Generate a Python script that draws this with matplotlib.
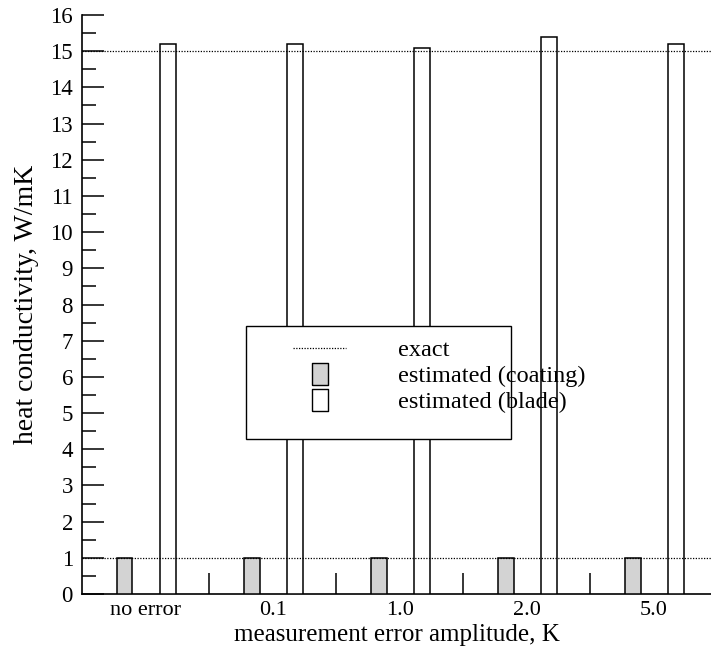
import numpy as np
import matplotlib
matplotlib.use('Agg')
import matplotlib.pyplot as plt
from matplotlib.lines import Line2D
from matplotlib.patches import Rectangle

# data
categories = ['no error', '0.1', '1.0', '2.0', '5.0']
coating = [1.0, 1.0, 1.0, 1.0, 1.0]
blade = [15.2, 15.2, 15.1, 15.4, 15.2]
exact_values = [1.0, 15.0]

plt.rcParams['font.family'] = ['Liberation Serif', 'DejaVu Serif']

fig = plt.figure(figsize=(7.11, 6.55), dpi=100)
ax = fig.add_axes([0.1153, 0.0931, 0.8847, 0.8840])

x = np.arange(len(categories))
bw = 0.125
ax.bar(x - 0.165, coating, width=bw, color='#d3d3d3', edgecolor='black', linewidth=1.1, zorder=3)
ax.bar(x + 0.175, blade, width=bw, color='white', edgecolor='black', linewidth=1.1, zorder=3)

for v in exact_values:
    ax.axhline(v, color='black', linestyle=(0, (1, 1.2)), linewidth=0.9, zorder=4)

ax.set_xlim(-0.5, 4.45)
ax.set_ylim(0, 16)

# spines
for s in ['top', 'right']:
    ax.spines[s].set_visible(False)
for s in ['left', 'bottom']:
    ax.spines[s].set_linewidth(1.2)

# y ticks
ax.set_yticks(np.arange(0, 17, 1))
ax.set_yticks(np.arange(0.5, 16, 1), minor=True)
ax.tick_params(axis='y', which='major', direction='in', length=16, width=1.1, labelsize=16.5, pad=6.5)
ax.tick_params(axis='y', which='minor', direction='in', length=10, width=1.1)

# x ticks: separators between groups, labels at centres
ax.set_xticks(x[:-1] + 0.5)
ax.set_xticklabels([])
ax.tick_params(axis='x', which='major', direction='in', length=15, width=1.1)
ax.set_xticks(x, minor=True)
ax.set_xticklabels(categories, minor=True)
ax.tick_params(axis='x', which='minor', length=0, labelsize=16, pad=5)

ax.set_xlabel('measurement error amplitude, K', fontsize=18, labelpad=3)
ax.set_ylabel('heat conductivity, W/mK', fontsize=20, labelpad=8)

# legend with a big rectangular frame
frame = Rectangle((246 / 711, 1 - 439 / 655), (511 - 246) / 711, (439 - 326) / 655,
                  transform=fig.transFigure, facecolor='white', edgecolor='black',
                  linewidth=1.0, zorder=5)
fig.patches.append(frame)

rect_marker = [(-0.36, -0.5), (0.36, -0.5), (0.36, 0.5), (-0.36, 0.5), (-0.36, -0.5)]
handles = [
    Line2D([], [], color='black', linestyle=(0, (1, 1.2)), linewidth=0.9),
    Line2D([], [], linestyle='none', marker=rect_marker, markersize=16,
           markerfacecolor='#d3d3d3', markeredgecolor='black', markeredgewidth=1.0),
    Line2D([], [], linestyle='none', marker=rect_marker, markersize=16,
           markerfacecolor='white', markeredgecolor='black', markeredgewidth=1.0),
]
labels = ['exact', 'estimated (coating)', 'estimated (blade)']
leg = fig.legend(handles, labels, loc='upper left', bbox_to_anchor=(293 / 711, 1 - 339 / 655),
                 frameon=False, fontsize=17.5, handlelength=2.2, handletextpad=2.1,
                 labelspacing=0.17, borderpad=0, borderaxespad=0)
leg.set_zorder(6)

fig.savefig('out.png', dpi=100)
